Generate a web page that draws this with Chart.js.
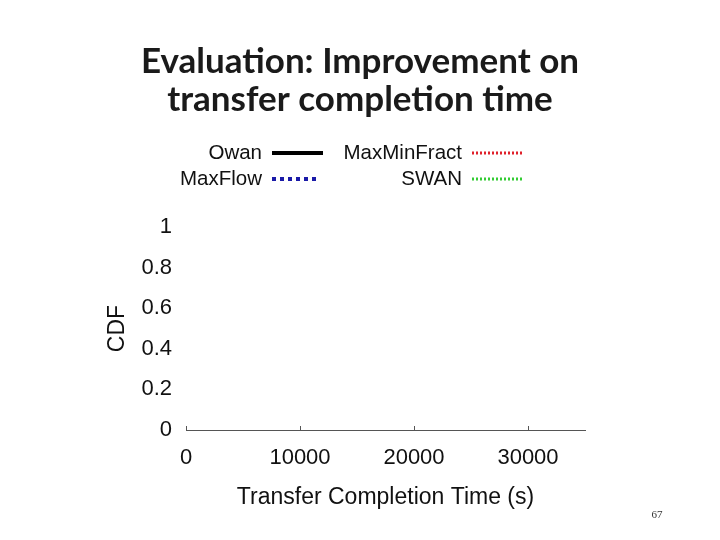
<!DOCTYPE html>
<html>
<head>
<meta charset="utf-8">
<script src="https://cdn.jsdelivr.net/npm/chart.js@4"></script>
<style>
  html, body { margin: 0; padding: 0; background: #fff; }
  #wrap { width: 720px; height: 540px; position: relative; }
</style>
</head>
<body>
<div id="wrap"><canvas id="chart" width="720" height="540"></canvas></div>
<script>
// Series names and their (empty on this slide) CDF points
const seriesNames = ["Owan", "MaxMinFract", "MaxFlow", "SWAN"];
const owanPoints = [];
const maxMinFractPoints = [];
const maxFlowPoints = [];
const swanPoints = [];

const xTicks = [0, 10000, 20000, 30000];
const yTicks = [0, 0.2, 0.4, 0.6, 0.8, 1];
const xMax = 35000;

const titleLines = ["Evaluation: Improvement on", "transfer completion time"];
const slideNumber = "67";

const tickFont = { family: "Liberation Sans", size: 22 };
const axisTitleFont = { family: "Liberation Sans", size: 23 };

// legend drawn as "text ---" in two columns, like the gnuplot key
const keyPlugin = {
  id: "key",
  afterDraw(chart) {
    const ctx = chart.ctx;
    const slots = [
      { x: 262, y: 153 }, { x: 462, y: 153 },
      { x: 262, y: 179 }, { x: 462, y: 179 }
    ];
    ctx.save();
    ctx.font = "20.5px 'Liberation Sans'";
    ctx.textAlign = "right";
    ctx.textBaseline = "middle";
    chart.data.datasets.forEach((ds, i) => {
      const s = slots[i];
      ctx.fillStyle = "#111";
      ctx.fillText(ds.label, s.x, s.y);
      ctx.strokeStyle = ds.borderColor;
      ctx.lineWidth = ds.borderWidth;
      ctx.setLineDash(ds.borderDash || []);
      ctx.beginPath();
      ctx.moveTo(s.x + 10, s.y);
      ctx.lineTo(s.x + (i === 2 ? 56 : 61), s.y);
      ctx.stroke();
    });
    ctx.setLineDash([]);

    // inward tick marks on the x axis
    const xs = chart.scales.x;
    const bottom = chart.chartArea.bottom;
    ctx.strokeStyle = "#555";
    ctx.lineWidth = 1;
    xs.ticks.forEach(t => {
      const px = Math.round(xs.getPixelForValue(t.value)) + 0.5;
      ctx.beginPath();
      ctx.moveTo(px, bottom);
      ctx.lineTo(px, bottom - 4);
      ctx.stroke();
    });

    // slide title and page number
    ctx.fillStyle = "#1a1a1a";
    ctx.textAlign = "center";
    ctx.font = "bold 35px Lato";
    ctx.fillText(titleLines[0], 360, 62);
    ctx.fillText(titleLines[1], 360, 100);
    ctx.font = "11px 'Liberation Serif'";
    ctx.fillStyle = "#333";
    ctx.fillText(slideNumber, 657, 515);
    ctx.restore();
  }
};

new Chart(document.getElementById("chart"), {
  type: "line",
  data: {
    datasets: [
      { label: seriesNames[0], data: owanPoints, borderColor: "#000000", borderWidth: 4, pointRadius: 0 },
      { label: seriesNames[1], data: maxMinFractPoints, borderColor: "#e0202a", borderWidth: 3, borderDash: [2, 2], pointRadius: 0 },
      { label: seriesNames[2], data: maxFlowPoints, borderColor: "#1a1aa8", borderWidth: 4, borderDash: [4, 4], pointRadius: 0 },
      { label: seriesNames[3], data: swanPoints, borderColor: "#33cc33", borderWidth: 3, borderDash: [2, 2], pointRadius: 0 }
    ]
  },
  options: {
    responsive: false,
    animation: false,
    layout: { padding: { left: 100, right: 135, top: 227, bottom: 24 } },
    plugins: {
      legend: { display: false },
      title: { display: false },
      tooltip: { enabled: false }
    },
    scales: {
      x: {
        type: "linear",
        min: 0,
        max: xMax,
        afterFit: s => { s.height = 86; },
        afterBuildTicks: s => { s.ticks = xTicks.map(v => ({ value: v })); },
        grid: { display: false, drawTicks: false },
        border: { display: true, color: "#555", width: 1 },
        ticks: { font: tickFont, color: "#111", padding: 15, maxRotation: 0, callback: v => String(v) },
        title: { display: true, text: "Transfer Completion Time (s)", font: axisTitleFont, color: "#111", padding: 5 }
      },
      y: {
        type: "linear",
        min: 0,
        max: 1,
        afterFit: s => { s.width = 86; },
        afterBuildTicks: s => { s.ticks = yTicks.map(v => ({ value: v })); },
        grid: { display: false, drawTicks: false },
        border: { display: false },
        ticks: { font: tickFont, color: "#111", padding: 14, callback: v => String(v) },
        title: { display: true, text: "CDF", font: axisTitleFont, color: "#111", padding: 4 }
      }
    }
  },
  plugins: [keyPlugin]
});
</script>
</body>
</html>
